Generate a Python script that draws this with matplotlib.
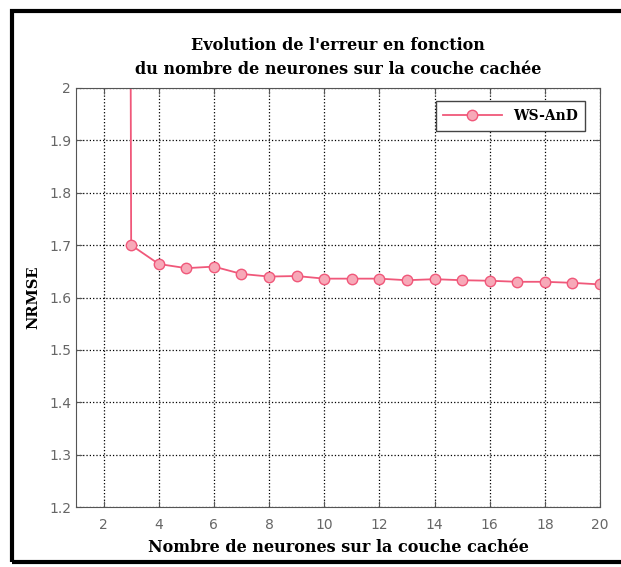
import numpy as np
import matplotlib.pyplot as plt
from matplotlib.patches import Rectangle

# NRMSE vs. number of hidden neurons
neurones = [2, 3, 4, 5, 6, 7, 8, 9, 10, 11, 12, 13, 14, 15, 16, 17, 18, 19, 20]
nrmse = [20.0, 1.700, 1.664, 1.656, 1.659, 1.645, 1.640, 1.641, 1.636, 1.636,
         1.636, 1.633, 1.635, 1.633, 1.632, 1.630, 1.630, 1.628, 1.625]

xticks = [2, 4, 6, 8, 10, 12, 14, 16, 18, 20]
yticks = [1.2, 1.3, 1.4, 1.5, 1.6, 1.7, 1.8, 1.9, 2]
yticklabels = ['1.2', '1.3', '1.4', '1.5', '1.6', '1.7', '1.8', '1.9', '2']

serif = 'DejaVu Serif'
col = '#f0587a'

fig = plt.figure(figsize=(6.21, 5.67), dpi=100)
ax = fig.add_axes([0.1224, 0.1058, 0.8438, 0.739])

ax.plot(neurones, nrmse, '-o', color=col, lw=1.3, ms=7.5,
        markerfacecolor='#f7a9b8', markeredgecolor=col, label='WS-AnD')

ax.set_xlim(1, 20)
ax.set_ylim(1.2, 2)
ax.set_xticks(xticks)
ax.set_yticks(yticks)
ax.set_yticklabels(yticklabels)
ax.tick_params(direction='in', length=4, colors='#555555', labelsize=10,
               top=True, right=True)
ax.tick_params(axis='x', pad=8)
for lab in ax.get_xticklabels() + ax.get_yticklabels():
    lab.set_fontfamily('DejaVu Sans')
    lab.set_color('#666666')
ax.grid(True, ls=':', color='black', lw=0.9)
for s in ax.spines.values():
    s.set_color('#555555')

ax.set_title("Evolution de l'erreur en fonction\ndu nombre de neurones sur la couche cachée",
             fontfamily=serif, fontweight='bold', fontsize=11.5, pad=10, linespacing=1.55)
ax.set_xlabel('Nombre de neurones sur la couche cachée', fontfamily=serif,
              fontweight='bold', fontsize=11.5, labelpad=5)
ax.set_ylabel('NRMSE', fontfamily=serif, fontweight='bold', fontsize=10.5, labelpad=6)

leg = ax.legend(loc='upper right', prop={'family': serif, 'weight': 'bold', 'size': 10},
                fancybox=False, edgecolor='#444444', framealpha=1,
                borderpad=0.55, handlelength=4.2, bbox_to_anchor=(0.985, 0.985))
leg.get_frame().set_linewidth(1.0)

# frame around the figure
fig.patches.append(Rectangle((12 / 621, 5 / 567), 1.1, 551 / 567, transform=fig.transFigure,
                             fill=False, lw=3, edgecolor='black', clip_on=False))

fig.savefig('out.png', dpi=100)
